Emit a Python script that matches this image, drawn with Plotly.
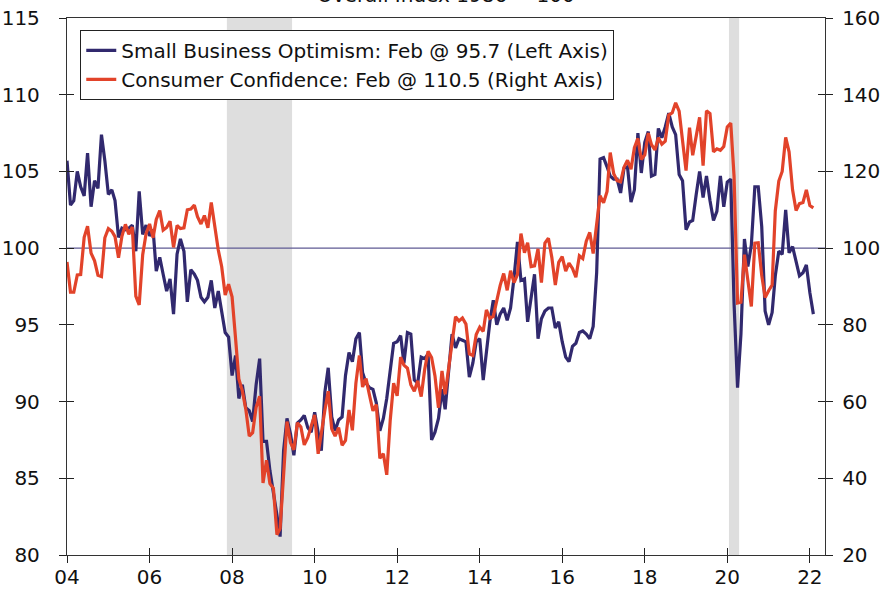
import plotly.graph_objects as go
import pandas as pd

# ---------------- data ----------------
dates = pd.date_range("2004-01-01", "2022-02-01", freq="MS")

small_business = [
    # 2004
    105.7, 102.8, 103.1, 105.0, 104.0, 103.4, 106.2, 102.7, 104.4, 103.9, 107.4, 105.7,
    # 2005
    103.5, 103.8, 103.1, 100.7, 101.3, 101.2, 101.3, 101.5, 99.8, 103.7, 100.9, 101.5,
    # 2006
    100.8, 101.2, 98.5, 99.4, 98.3, 97.2, 98.0, 95.7, 99.6, 100.6, 99.8, 96.5,
    # 2007
    98.6, 98.3, 97.9, 96.8, 96.5, 96.8, 97.9, 96.1, 97.2, 95.9, 94.5, 94.2,
    # 2008
    91.7, 93.0, 90.2, 91.1, 89.6, 89.4, 88.7, 91.1, 92.8, 87.4, 87.4, 85.5,
    # 2009
    84.2, 82.6, 81.2, 86.8, 88.9, 87.9, 86.5, 88.6, 88.8, 89.1, 88.3, 88.0,
    # 2010
    89.3, 88.0, 86.8, 90.6, 92.2, 89.0, 88.1, 88.8, 89.0, 91.7, 93.2, 92.6,
    # 2011
    94.1, 94.5, 91.9, 91.2, 90.9, 90.8, 89.9, 88.1, 88.9, 90.2, 92.0, 93.8,
    # 2012
    93.9, 94.3, 92.5, 94.5, 94.4, 91.4, 91.2, 92.9, 92.8, 93.1, 87.5, 88.0,
    # 2013
    88.9, 90.8, 89.5, 92.1, 94.4, 93.5, 94.1, 94.0, 93.9, 91.6, 92.5, 93.9,
    # 2014
    94.1, 91.4, 93.4, 95.2, 96.6, 95.0, 95.7, 96.1, 95.3, 96.1, 98.1, 100.4,
    # 2015
    97.9, 98.0, 95.2, 96.9, 98.3, 94.1, 95.4, 95.9, 96.1, 96.1, 94.8, 95.2,
    # 2016
    93.9, 92.9, 92.6, 93.6, 93.8, 94.5, 94.6, 94.4, 94.1, 94.9, 98.4, 105.8,
    # 2017
    105.9, 105.3, 104.7, 104.5, 104.5, 103.6, 105.2, 105.3, 103.0, 103.8, 107.5, 104.9,
    # 2018
    106.9, 107.6, 104.7, 104.8, 107.8, 107.2, 107.9, 108.8, 107.9, 107.4, 104.8, 104.4,
    # 2019
    101.2, 101.7, 101.8, 103.5, 105.0, 103.3, 104.7, 103.1, 101.8, 102.4, 104.7, 102.7,
    # 2020
    104.3, 104.5, 96.4, 90.9, 94.4, 100.6, 98.8, 100.2, 104.0, 104.0, 101.4, 95.9,
    # 2021
    95.0, 95.8, 98.2, 99.8, 99.6, 102.5, 99.7, 100.1, 99.1, 98.2, 98.4, 98.9,
    # 2022
    97.1, 95.7,
]

consumer_confidence = [
    # 2004
    96.4, 88.5, 88.5, 93.0, 93.1, 102.8, 105.7, 98.7, 96.7, 92.9, 92.6, 102.7,
    # 2005
    105.1, 104.4, 103.0, 97.5, 103.1, 106.2, 103.6, 105.5, 87.5, 85.2, 98.3, 103.8,
    # 2006
    106.3, 102.7, 107.5, 109.8, 104.7, 105.4, 107.0, 100.2, 105.9, 105.1, 105.3, 110.0,
    # 2007
    110.2, 111.2, 108.2, 106.3, 108.5, 105.3, 111.9, 105.6, 99.5, 95.2, 87.8, 90.6,
    # 2008
    87.3, 76.4, 65.9, 62.8, 58.1, 51.0, 51.9, 58.5, 61.4, 38.8, 44.7, 38.6,
    # 2009
    37.4, 25.3, 26.9, 40.8, 54.8, 49.3, 47.4, 54.5, 53.4, 48.7, 50.6, 53.6,
    # 2010
    56.5, 46.4, 52.3, 57.7, 62.7, 52.9, 51.0, 53.2, 48.6, 49.9, 57.8, 52.5,
    # 2011
    64.8, 72.0, 63.8, 66.0, 61.7, 57.6, 59.2, 45.2, 46.4, 40.9, 55.2, 64.8,
    # 2012
    61.5, 71.6, 69.5, 68.7, 64.4, 62.7, 65.4, 61.3, 68.4, 73.1, 71.5, 66.7,
    # 2013
    58.4, 68.0, 61.9, 69.0, 74.3, 82.1, 81.0, 81.8, 80.2, 72.4, 72.0, 77.5,
    # 2014
    79.4, 78.3, 83.9, 81.7, 82.2, 86.4, 90.3, 93.4, 89.0, 94.1, 91.0, 93.1,
    # 2015
    103.8, 98.8, 101.4, 95.2, 95.4, 99.8, 91.0, 101.3, 102.6, 97.6, 90.4, 96.3,
    # 2016
    97.8, 94.0, 96.1, 94.7, 92.4, 98.0, 97.3, 101.8, 104.1, 98.6, 107.1, 113.7,
    # 2017
    111.8, 114.8, 124.9, 119.4, 117.6, 117.3, 121.1, 122.9, 120.6, 126.2, 128.6, 123.1,
    # 2018
    124.3, 130.0, 127.0, 125.6, 128.8, 127.1, 127.9, 134.7, 135.3, 137.9, 135.7, 128.1,
    # 2019
    120.2, 131.4, 124.2, 129.2, 134.1, 121.5, 135.8, 135.1, 125.1, 125.9, 125.5, 126.5,
    # 2020
    131.6, 132.6, 118.8, 85.7, 85.9, 98.3, 91.7, 84.8, 101.3, 101.4, 92.9, 87.1,
    # 2021
    88.9, 90.4, 109.7, 117.5, 120.0, 128.9, 125.1, 115.2, 109.8, 111.6, 111.9, 115.2,
    # 2022
    111.1, 110.5,
]

# recession months shaded as monthly bars (half a month either side)
recession_starts = ["2007-11-16", "2020-01-16"]
recession_ends = ["2009-06-15", "2020-04-15"]

xtick_years = list(range(2004, 2023, 2))
xtick_labels = ["04", "06", "08", "10", "12", "14", "16", "18", "20", "22"]
left_ticks = [80, 85, 90, 95, 100, 105, 110, 115]
right_ticks = [20, 40, 60, 80, 100, 120, 140, 160]

series_names = [
    "Small Business Optimism: Feb @ 95.7 (Left Axis)",
    "Consumer Confidence: Feb @ 110.5 (Right Axis)",
]
title_text = "Overall Index 1986 = 100"

# ---------------- styles ----------------
NAVY = "#31296E"
RED = "#E2432A"
FONT = "DejaVu Sans"
FS = 20
xtick_dates = [f"{y}-01-01" for y in xtick_years]
x_range = ["2004-01-01", "2022-05-15"]

fig = go.Figure()

fig.add_trace(go.Scatter(
    x=dates, y=small_business, name=series_names[0], mode="lines",
    line=dict(color=NAVY, width=3.2), xaxis="x", yaxis="y",
))
fig.add_trace(go.Scatter(
    x=dates, y=consumer_confidence, name=series_names[1], mode="lines",
    line=dict(color=RED, width=3.2), xaxis="x", yaxis="y2",
))
# empty helpers so the overlay tick axes get drawn
fig.add_trace(go.Scatter(x=[None], y=[None], xaxis="x2", yaxis="y3",
                         showlegend=False, hoverinfo="skip"))
fig.add_trace(go.Scatter(x=[None], y=[None], xaxis="x", yaxis="y4",
                         showlegend=False, hoverinfo="skip"))

shapes = []
for s, e in zip(recession_starts, recession_ends):
    shapes.append(dict(type="rect", xref="x", yref="paper", x0=s, x1=e, y0=0, y1=1,
                       fillcolor="#DEDEDE", line=dict(width=0), layer="below"))
shapes.append(dict(type="line", xref="paper", yref="y", x0=0, x1=1, y0=100, y1=100,
                   line=dict(color="#5F5A93", width=1.3), layer="below"))

axis_common = dict(showgrid=False, zeroline=False, tickcolor="#222",
                   automargin=False,
                   tickfont=dict(family=FONT, size=FS, color="#111"))

fig.update_layout(
    template="plotly_white",
    width=884, height=590,
    margin=dict(l=67, r=59, t=18, b=35, autoexpand=False),
    paper_bgcolor="white", plot_bgcolor="white",
    font=dict(family=FONT, size=FS, color="#111"),
    shapes=shapes,
    showlegend=True,
    legend=dict(x=0.0175, y=0.978, xanchor="left", yanchor="top",
                bgcolor="white", bordercolor="#222", borderwidth=1,
                font=dict(family=FONT, size=20, color="#111"),
                tracegroupgap=0, itemwidth=30),
    xaxis=dict(type="date", range=x_range, tickmode="array",
               tickvals=xtick_dates, ticktext=xtick_labels,
               ticks="outside", ticklen=7, tickwidth=1,
               showline=True, linecolor="#333", linewidth=1.3, mirror=True,
               ticklabelstandoff=-3,
               anchor="y", **axis_common),
    xaxis2=dict(type="date", range=x_range, tickmode="array",
                tickvals=xtick_dates, ticks="inside", ticklen=7, tickwidth=1,
                showticklabels=False, showline=False, overlaying="x",
                anchor="y", side="bottom", **axis_common),
    yaxis=dict(range=[80, 115], tickmode="array", tickvals=left_ticks,
               ticks="outside", ticklen=7, tickwidth=1,
               showline=True, linecolor="#333", linewidth=1.3,
               ticklabelstandoff=15, anchor="x", **axis_common),
    yaxis2=dict(range=[20, 160], tickmode="array", tickvals=right_ticks,
                ticks="outside", ticklen=7, tickwidth=1,
                showline=True, linecolor="#333", linewidth=1.3,
                side="right", overlaying="y", anchor="x",
                ticklabelstandoff=5, **axis_common),
    yaxis3=dict(range=[80, 115], tickmode="array", tickvals=left_ticks,
                ticks="inside", ticklen=7, tickwidth=1, showticklabels=False,
                showline=False, overlaying="y", side="left", anchor="x2",
                **axis_common),
    yaxis4=dict(range=[20, 160], tickmode="array", tickvals=right_ticks,
                ticks="inside", ticklen=7, tickwidth=1, showticklabels=False,
                showline=False, overlaying="y", side="right", anchor="x",
                **axis_common),
    annotations=[dict(text=title_text, xref="paper", yref="paper", x=0.5, y=1,
                      xanchor="center", yanchor="bottom", yshift=9,
                      showarrow=False,
                      font=dict(family=FONT, size=FS, color="#111"))],
)

fig.write_html("out.html", config={"displayModeBar": False},
               post_script="document.body.style.margin='0px';")
